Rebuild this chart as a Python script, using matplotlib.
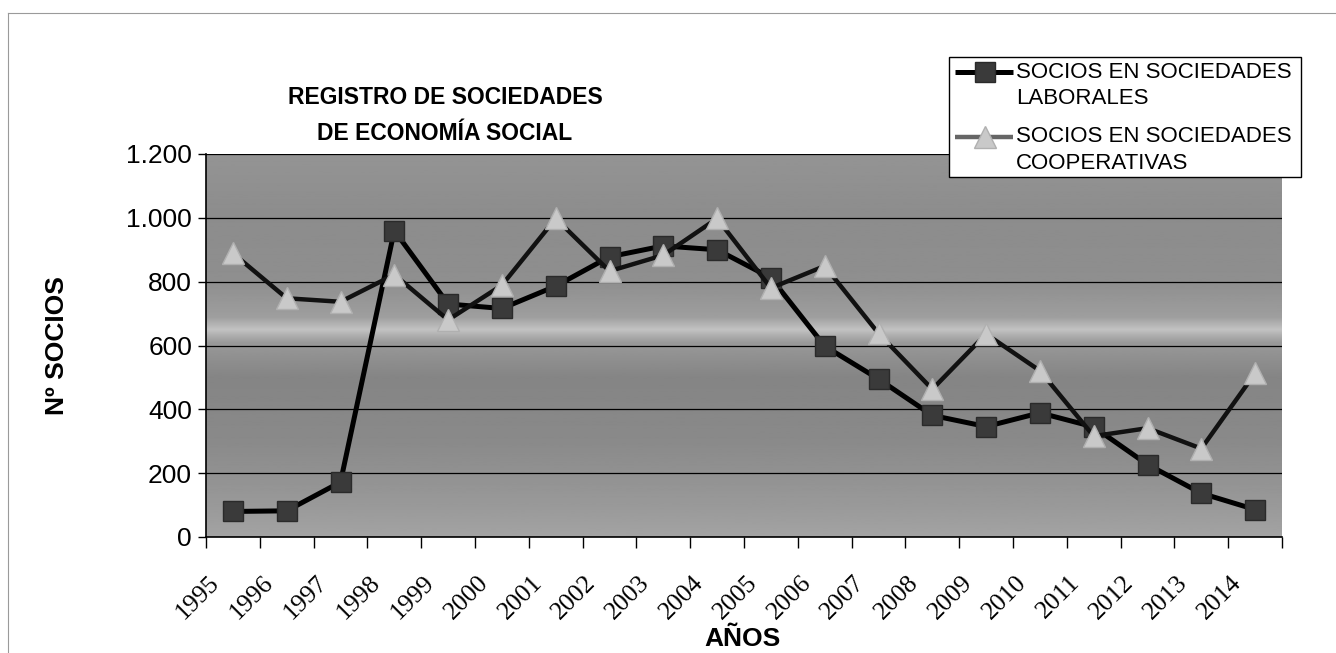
import numpy as np
import matplotlib
matplotlib.use("Agg")
import matplotlib.pyplot as plt
import matplotlib.transforms as mtransforms
from matplotlib.lines import Line2D
from matplotlib.patches import Rectangle
from matplotlib.ticker import FuncFormatter

plt.rcParams['font.family'] = ['Liberation Sans', 'DejaVu Sans']

# data
years = [str(y) for y in range(1995, 2015)]
laborales = [80, 82, 172, 960, 730, 716, 786, 878, 912, 900,
             812, 598, 495, 381, 346, 389, 345, 227, 137, 86]
cooperativas = [889, 748, 737, 822, 680, 789, 998, 833, 883, 998,
                780, 849, 638, 463, 636, 521, 316, 341, 277, 513]
labels = ['SOCIOS EN SOCIEDADES\nLABORALES', 'SOCIOS EN SOCIEDADES\nCOOPERATIVAS']

W, H = 1336, 653
fig = plt.figure(figsize=(W / 100, H / 100), dpi=100)


def fx(px):
    return px / W


def fy(py):
    return 1 - py / H


ax = fig.add_axes([fx(206), fy(537), (1282 - 206) / W, (537 - 154) / H])

# gray gradient fill of the plot area
stops_v = [0, 100, 300, 500, 610, 650, 690, 800, 1000, 1200]
stops_g = [0.64, 0.60, 0.54, 0.52, 0.60, 0.76, 0.62, 0.56, 0.55, 0.58]
yy = np.linspace(0, 1200, 400)
grad = np.interp(yy, stops_v, stops_g)[:, None]
ax.imshow(grad, extent=[0, 20, 0, 1200], origin='lower', aspect='auto',
          cmap='gray', vmin=0, vmax=1, zorder=0)

lab_style = dict(color='black', lw=3.6, marker='s', ms=14, mfc='#3a3a3a', mec='#2a2a2a')
coop_style = dict(color='#111111', lw=3.2, marker='^', ms=16, mfc='#c9c9c9', mec='#b0b0b0')

x = np.arange(len(years)) + 0.5
ax.plot(x, laborales, zorder=3, **lab_style)
ax.plot(x, cooperativas, zorder=4, **coop_style)

ax.set_xlim(0, 20)
ax.set_ylim(0, 1200)
ax.set_yticks(range(0, 1201, 200))
ax.yaxis.set_major_formatter(FuncFormatter(lambda v, p: f"{v:,.0f}".replace(',', '.')))
ax.set_xticks(range(21))
ax.set_xticklabels([])
ax.yaxis.grid(True, color='black', linewidth=0.9)
ax.set_axisbelow(True)

for s in ['top', 'right']:
    ax.spines[s].set_visible(False)
for s in ['left', 'bottom']:
    ax.spines[s].set_color('black')
    ax.spines[s].set_linewidth(1.2)
ax.tick_params(axis='y', direction='out', length=6, width=1, labelsize=19, pad=4)
ax.tick_params(axis='x', direction='out', length=8, width=1)

# rotated year labels
off = mtransforms.ScaledTranslation(-17 / 100, -42 / 100, fig.dpi_scale_trans)
for xi, yr in zip(x, years):
    ax.text(xi, 0, yr, transform=ax.get_xaxis_transform() + off,
            rotation=45, rotation_mode='anchor', ha='right', va='center',
            fontsize=18.5, family='Liberation Serif')

# titles
fig.text(fx(445), fy(98), 'REGISTRO DE SOCIEDADES', ha='center', va='center',
         fontsize=16.5, fontweight='bold')
fig.text(fx(445), fy(134), 'DE ECONOMÍA SOCIAL', ha='center', va='center',
         fontsize=16.5, fontweight='bold')
fig.text(fx(57), fy(346), 'Nº SOCIOS', rotation=90, ha='center', va='center',
         fontsize=19, fontweight='bold')
fig.text(fx(742), fy(639), 'AÑOS', ha='center', va='center',
         fontsize=19, fontweight='bold')

# legend box drawn by hand (Excel style: handle level with first text line)
fig.add_artist(Rectangle((fx(949), fy(177)), (1301 - 949) / W, (177 - 57) / H,
                         transform=fig.transFigure, facecolor='white',
                         edgecolor='black', lw=1.0, zorder=5))
entries = [(lab_style, 'black', 72), (coop_style, '#666666', 137)]
for (style, lcol, ly), lab in zip(entries, labels):
    fig.add_artist(Line2D([fx(955), fx(1013)], [fy(ly), fy(ly)], transform=fig.transFigure,
                          color=lcol, lw=style['lw'], solid_capstyle='butt', zorder=6))
    fig.add_artist(Line2D([fx(985)], [fy(ly)], transform=fig.transFigure, linestyle='none',
                          marker=style['marker'], ms=style['ms'], mfc=style['mfc'],
                          mec=style['mec'], zorder=7))
    for k, line in enumerate(lab.split('\n')):
        fig.text(fx(1016), fy(ly + 27 * k), line, ha='left', va='center',
                 fontsize=16, zorder=8)

# scanned page border
fig.add_artist(Line2D([fx(8), 1], [fy(13), fy(13)], color='#9a9a9a', lw=0.8,
                      transform=fig.transFigure))
fig.add_artist(Line2D([fx(8), fx(8)], [0, fy(13)], color='#9a9a9a', lw=0.8,
                      transform=fig.transFigure))

fig.savefig('out.png', dpi=100)
